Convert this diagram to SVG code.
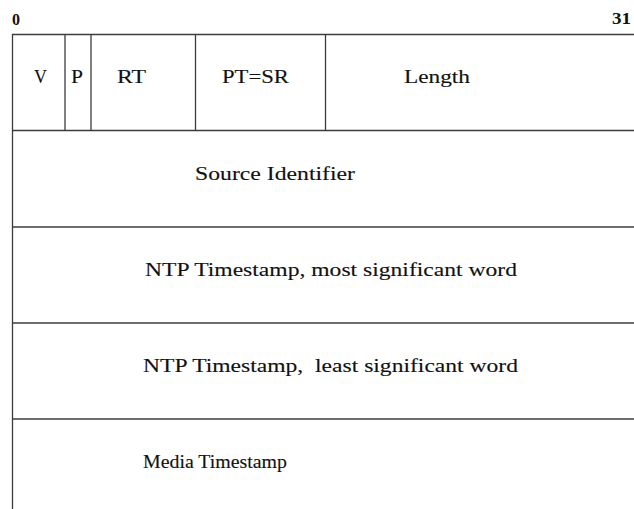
<svg xmlns="http://www.w3.org/2000/svg" width="634" height="509" viewBox="0 0 634 509">
  <style>
    .rule { stroke: #3c3c3c; stroke-width: 1.3; fill: none; }
    .lbl { font-family: "Liberation Serif", "Times New Roman", serif; font-size: 18px; fill: #111; stroke: #111; stroke-width: 0.12; }
    .bit { font-family: "Liberation Serif", "Times New Roman", serif; font-size: 16px; font-weight: bold; fill: #111; }
  </style>
  <rect width="634" height="509" fill="#ffffff"/>

  <!-- bit numbering -->
  <g id="bit-scale">
    <text class="bit" x="12" y="25" textLength="8" lengthAdjust="spacingAndGlyphs">0</text>
    <text class="bit" x="612" y="24" textLength="19" lengthAdjust="spacingAndGlyphs">31</text>
  </g>

  <!-- frame and word boundaries -->
  <g id="grid">
    <line class="rule" x1="12.5" y1="34" x2="12.5" y2="509"/>
    <line class="rule" x1="12" y1="34.5" x2="634" y2="34.5"/>
    <line class="rule" x1="12" y1="130.5" x2="634" y2="130.5"/>
    <line class="rule" x1="12" y1="227" x2="634" y2="227"/>
    <line class="rule" x1="12" y1="323" x2="634" y2="323"/>
    <line class="rule" x1="12" y1="419" x2="634" y2="419"/>
    <!-- first word field separators -->
    <line class="rule" x1="65" y1="34" x2="65" y2="130.5"/>
    <line class="rule" x1="91" y1="34" x2="91" y2="130.5"/>
    <line class="rule" x1="195.5" y1="34" x2="195.5" y2="130.5"/>
    <line class="rule" x1="325.5" y1="34" x2="325.5" y2="130.5"/>
  </g>

  <g id="field-v"><text class="lbl" x="34" y="83" textLength="13" lengthAdjust="spacingAndGlyphs">V</text></g>
  <g id="field-p"><text class="lbl" x="71" y="83" textLength="12" lengthAdjust="spacingAndGlyphs">P</text></g>
  <g id="field-rt"><text class="lbl" x="117" y="83" textLength="29" lengthAdjust="spacingAndGlyphs">RT</text></g>
  <g id="field-pt"><text class="lbl" x="222" y="83" textLength="67" lengthAdjust="spacingAndGlyphs">PT=SR</text></g>
  <g id="field-length"><text class="lbl" x="404" y="83" textLength="66" lengthAdjust="spacingAndGlyphs">Length</text></g>
  <g id="field-source"><text class="lbl" x="195" y="180" textLength="160" lengthAdjust="spacingAndGlyphs">Source Identifier</text></g>
  <g id="field-ntp-msw"><text class="lbl" x="145" y="276" textLength="372" lengthAdjust="spacingAndGlyphs">NTP Timestamp, most significant word</text></g>
  <g id="field-ntp-lsw"><text class="lbl" x="143" y="372" textLength="375" lengthAdjust="spacingAndGlyphs" xml:space="preserve">NTP Timestamp,  least significant word</text></g>
  <g id="field-media"><text class="lbl" x="143" y="468" textLength="144" lengthAdjust="spacingAndGlyphs">Media Timestamp</text></g>
</svg>
